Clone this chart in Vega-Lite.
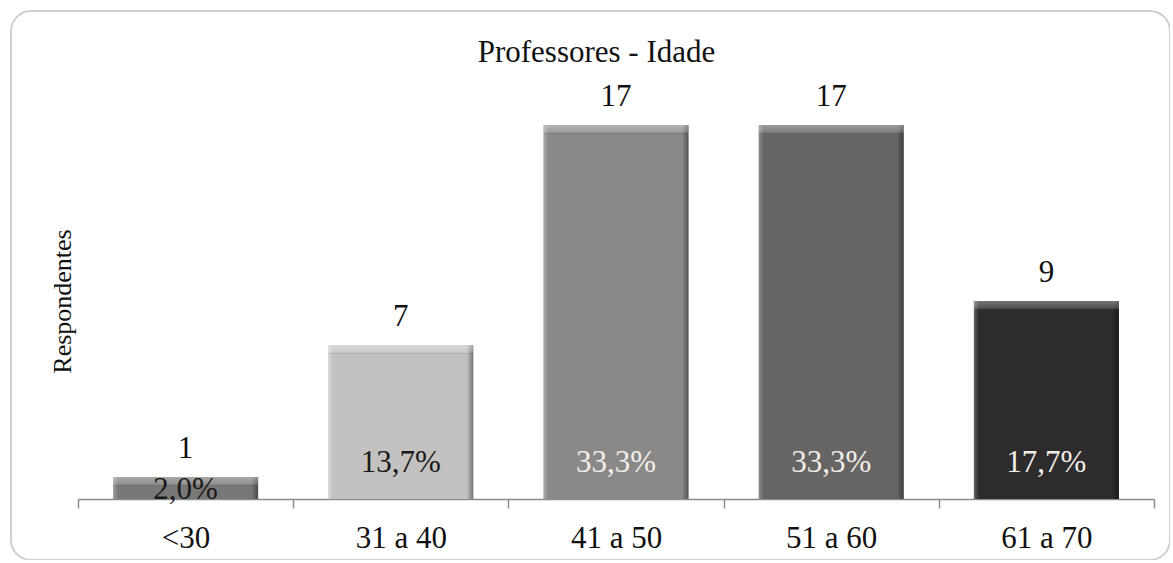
{
  "$schema": "https://vega.github.io/schema/vega-lite/v6.json",
  "autosize": {"type": "none"},
  "padding": {"left": 11, "top": 11, "right": 0, "bottom": 0},
  "width": 1159,
  "height": 549,
  "background": "white",
  "title": {
    "text": "Professores - Idade",
    "font": "Liberation Serif",
    "fontSize": 31,
    "fontWeight": "normal",
    "color": "#111111",
    "anchor": "middle",
    "frame": "group",
    "baseline": "alphabetic",
    "offset": 0,
    "dx": 6,
    "dy": 82
  },
  "data": {
    "values": [
      {"faixa": "<30", "n": 1, "pct": "2,0%"},
      {"faixa": "31 a 40", "n": 7, "pct": "13,7%"},
      {"faixa": "41 a 50", "n": 17, "pct": "33,3%"},
      {"faixa": "51 a 60", "n": 17, "pct": "33,3%"},
      {"faixa": "61 a 70", "n": 9, "pct": "17,7%"}
    ]
  },
  "encoding": {
    "x": {
      "field": "faixa",
      "type": "nominal",
      "sort": null,
      "scale": {"range": [67, 1143], "paddingInner": 0, "paddingOuter": 0},
      "axis": {
        "title": null,
        "orient": "bottom",
        "offset": -61,
        "labelAngle": 0,
        "labelFont": "Liberation Serif",
        "labelFontSize": 31,
        "labelColor": "#111111",
        "labelPadding": 15,
        "tickBand": "extent",
        "tickSize": 9,
        "tickWidth": 1.5,
        "tickColor": "#858d95",
        "domainColor": "#858d95",
        "domainWidth": 1.5,
        "grid": false
      }
    }
  },
  "layer": [
    {
      "mark": {"type": "bar", "width": {"band": 0.674}},
      "encoding": {
        "y": {
          "field": "n",
          "type": "quantitative",
          "scale": {"domain": [0, 20], "range": [488, 48], "nice": false},
          "axis": {
            "title": "Respondentes",
            "titleFont": "Liberation Serif",
            "titleFontSize": 26,
            "titleFontWeight": "normal",
            "titleColor": "#111111",
            "titleBaseline": "middle",
            "titleAngle": 270,
            "titleX": 51,
            "titleY": 290,
            "domain": false,
            "ticks": false,
            "labels": false,
            "grid": false
          }
        },
        "color": {
          "field": "faixa",
          "type": "nominal",
          "sort": null,
          "scale": {
            "domain": ["<30", "31 a 40", "41 a 50", "51 a 60", "61 a 70"],
            "range": ["#7a7876", "#c4c2c0", "#8b8988", "#666564", "#2d2b2b"]
          },
          "legend": null
        }
      }
    },
    {
      "mark": {
        "type": "bar",
        "width": {"band": 0.674},
        "color": {
          "gradient": "linear",
          "x1": 0, "y1": 0, "x2": 1, "y2": 0,
          "stops": [
            {"offset": 0, "color": "rgba(255,255,255,0.28)"},
            {"offset": 0.035, "color": "rgba(255,255,255,0)"},
            {"offset": 0.955, "color": "rgba(0,0,0,0)"},
            {"offset": 1, "color": "rgba(0,0,0,0.4)"}
          ]
        }
      },
      "encoding": {"y": {"field": "n", "type": "quantitative"}}
    },
    {
      "mark": {
        "type": "tick",
        "thickness": 9,
        "size": 145,
        "yOffset": 4.5,
        "opacity": 1,
        "color": {
          "gradient": "linear",
          "x1": 0, "y1": 0, "x2": 0, "y2": 1,
          "stops": [
            {"offset": 0, "color": "rgba(255,255,255,0.35)"},
            {"offset": 0.8, "color": "rgba(255,255,255,0.18)"},
            {"offset": 1, "color": "rgba(0,0,0,0.12)"}
          ]
        }
      },
      "encoding": {"y": {"field": "n", "type": "quantitative"}}
    },
    {
      "mark": {
        "type": "text",
        "font": "Liberation Serif",
        "fontSize": 31,
        "baseline": "alphabetic",
        "dy": -19,
        "color": "#111111"
      },
      "encoding": {
        "y": {"field": "n", "type": "quantitative"},
        "text": {"field": "n", "type": "quantitative"}
      }
    },
    {
      "transform": [{"filter": "datum.n >= 3"}],
      "mark": {
        "type": "text",
        "font": "Liberation Serif",
        "fontSize": 31,
        "baseline": "alphabetic",
        "dy": -27
      },
      "encoding": {
        "y": {"datum": 0, "type": "quantitative"},
        "text": {"field": "pct"},
        "fill": {
          "condition": {"test": "datum.n >= 9", "value": "#f3eee9"},
          "value": "#1a1a1a"
        }
      }
    },
    {
      "transform": [{"filter": "datum.n < 3"}],
      "mark": {
        "type": "text",
        "font": "Liberation Serif",
        "fontSize": 31,
        "baseline": "alphabetic",
        "dy": 0,
        "color": "#1a1a1a"
      },
      "encoding": {
        "y": {"datum": 0, "type": "quantitative"},
        "text": {"field": "pct"}
      }
    }
  ],
  "config": {
    "font": "Liberation Serif",
    "view": {"stroke": "#cfcfcf", "strokeWidth": 2, "cornerRadius": 20}
  }
}
